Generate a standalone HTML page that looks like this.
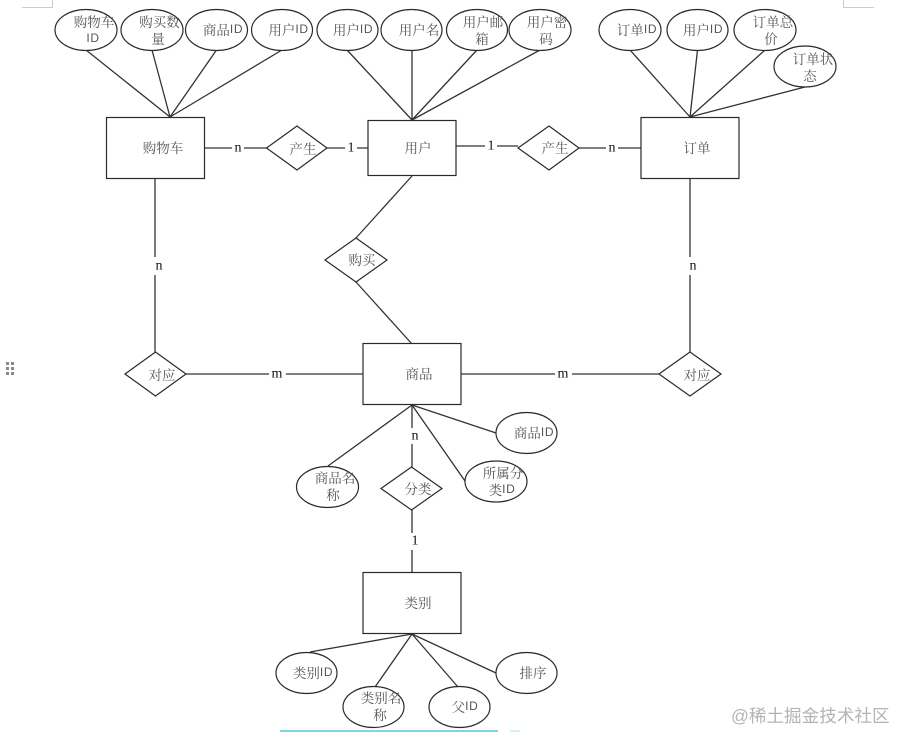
<!DOCTYPE html>
<html lang="zh">
<head>
<meta charset="utf-8">
<title>ER Diagram</title>
<style>
html,body{margin:0;padding:0;background:#fff;width:897px;height:732px;overflow:hidden}
svg{display:block;filter:blur(0.35px)}
.s{fill:#fff;stroke:#2a2a2a;stroke-width:1.2}
.l{stroke:#333;stroke-width:1.3;fill:none}
.t{font-family:"Noto Serif CJK SC","Liberation Serif",serif;font-size:13.5px;fill:#555;text-anchor:middle;dominant-baseline:central}
.i{font-family:"Liberation Sans",sans-serif;font-size:12px;letter-spacing:.6px}
.c{font-family:"Liberation Serif",serif;font-size:14px;fill:#111;text-anchor:middle;dominant-baseline:central}
</style>
</head>
<body>
<svg width="897" height="732" viewBox="0 0 897 732" xmlns="http://www.w3.org/2000/svg">
<rect width="897" height="732" fill="#fff"/>
<path d="M22 7.5H52.5V0M843.5 0V7.5H874" fill="none" stroke="#ccc"/>
<g fill="#8a8a8a">
<rect x="6" y="362" width="3" height="3"/><rect x="11" y="362" width="3" height="3"/>
<rect x="6" y="367" width="3" height="3"/><rect x="11" y="367" width="3" height="3"/>
<rect x="6" y="372" width="3" height="3"/><rect x="11" y="372" width="3" height="3"/>
</g>
<rect x="280" y="730" width="218" height="2" fill="#7fd4e2"/>
<rect x="510" y="730" width="10" height="2" fill="#d5f1f6"/>

<g class="l">
<path d="M86 50L170 117M152 50L170 117M216.5 50L170 117M282 50L170 117"/>
<path d="M347 50L412 120M412 50V120M477 50L412 120M540 50L412 120"/>
<path d="M630 50L690 117M697.5 50L690 117M765 50L690 117M805 87L690 117"/>
<path d="M155 178V352M205 148H266M327 148H368M456 146H518M579 148H641"/>
<path d="M412 176L356 238M356 282L412 344M690 178V352M186 374H363M461 374H659"/>
<path d="M412 405L496 433M412 405L465 481M412 405L328 466M412 405V467M412 510V572"/>
<path d="M412 634L310 652M412 634L375 687M412 634L458 687M412 634L496 673"/>
</g>

<g class="s">
<rect x="106.5" y="117.5" width="98" height="61"/>
<rect x="368" y="120.5" width="88" height="55"/>
<rect x="641" y="117.5" width="98" height="61"/>
<rect x="363" y="343.5" width="98" height="61"/>
<rect x="363" y="572.5" width="98" height="61"/>
<path d="M266.5 148L297 126L327 148L297 170Z"/>
<path d="M518 148L549 126L579 148L549 170Z"/>
<path d="M325 260L356 238L387 260L356 282Z"/>
<path d="M125 374L155.500 352L186 374L155.500 396Z"/>
<path d="M659 374L690 352L721 374L690 396Z"/>
<path d="M381 488.500L411.500 467L442 488.500L411.500 510Z"/>
<ellipse cx="86" cy="30" rx="31" ry="20.500"/>
<ellipse cx="152" cy="30" rx="31" ry="20.500"/>
<ellipse cx="216.500" cy="30" rx="31" ry="20.500"/>
<ellipse cx="282" cy="30" rx="30.500" ry="20.500"/>
<ellipse cx="347.500" cy="30" rx="30.500" ry="20.500"/>
<ellipse cx="411.500" cy="30" rx="30.500" ry="20.500"/>
<ellipse cx="477" cy="30" rx="30.500" ry="20.500"/>
<ellipse cx="540" cy="30" rx="31" ry="20.500"/>
<ellipse cx="630" cy="30" rx="31" ry="20.500"/>
<ellipse cx="697.500" cy="30" rx="30.500" ry="20.500"/>
<ellipse cx="765" cy="30" rx="31" ry="20.500"/>
<ellipse cx="805" cy="66.500" rx="31" ry="20.500"/>
<ellipse cx="526.500" cy="433" rx="30.500" ry="20.500"/>
<ellipse cx="496" cy="481.500" rx="31" ry="20.500"/>
<ellipse cx="327.500" cy="487" rx="31" ry="20.500"/>
<ellipse cx="306.500" cy="673" rx="30.500" ry="20.500"/>
<ellipse cx="373.500" cy="707" rx="30.500" ry="20.500"/>
<ellipse cx="459.500" cy="707" rx="30.500" ry="20.500"/>
<ellipse cx="526.500" cy="673" rx="30.500" ry="20.500"/>
</g>

<g fill="#fff">
<rect x="232" y="142" width="12" height="12"/>
<rect x="345" y="142" width="12" height="12"/>
<rect x="485" y="140" width="12" height="12"/>
<rect x="606" y="142" width="12" height="12"/>
<rect x="150" y="257" width="15" height="18"/>
<rect x="685" y="257" width="15" height="18"/>
<rect x="269" y="368" width="17" height="12"/>
<rect x="555" y="368" width="17" height="12"/>
<rect x="406" y="428" width="15" height="16"/>
<rect x="406" y="533" width="15" height="17"/>
</g>
<text class="c" x="238" y="148">n</text>
<text class="c" x="351" y="148">1</text>
<text class="c" x="491" y="146">1</text>
<text class="c" x="612" y="148">n</text>
<text class="c" x="159" y="266">n</text>
<text class="c" x="693" y="266">n</text>
<text class="c" x="277" y="374">m</text>
<text class="c" x="563" y="374">m</text>
<text class="c" x="415" y="436">n</text>
<text class="c" x="415" y="541">1</text>

<text class="t" x="94" y="21">购物车</text><text class="t" x="93" y="38"><tspan class="i">ID</tspan></text>
<text class="t" x="159.500" y="21">购买数</text><text class="t" x="158" y="38">量</text>
<text class="t" x="223" y="29">商品<tspan class="i">ID</tspan></text>
<text class="t" x="288.500" y="29">用户<tspan class="i">ID</tspan></text>
<text class="t" x="353" y="29">用户<tspan class="i">ID</tspan></text>
<text class="t" x="419" y="29">用户名</text>
<text class="t" x="483" y="21">用户邮</text><text class="t" x="482" y="38">箱</text>
<text class="t" x="547" y="21">用户密</text><text class="t" x="546" y="38">码</text>
<text class="t" x="637" y="29">订单<tspan class="i">ID</tspan></text>
<text class="t" x="703" y="29">用户<tspan class="i">ID</tspan></text>
<text class="t" x="773" y="21">订单总</text><text class="t" x="771" y="38">价</text>
<text class="t" x="813" y="58">订单状</text><text class="t" x="810" y="75">态</text>
<text class="t" x="163" y="147">购物车</text>
<text class="t" x="303" y="148">产生</text>
<text class="t" x="418" y="147">用户</text>
<text class="t" x="555" y="147">产生</text>
<text class="t" x="697" y="147">订单</text>
<text class="t" x="362" y="259">购买</text>
<text class="t" x="162" y="374">对应</text>
<text class="t" x="419" y="373">商品</text>
<text class="t" x="697" y="374">对应</text>
<text class="t" x="534" y="432">商品<tspan class="i">ID</tspan></text>
<text class="t" x="503" y="472">所属分</text><text class="t" x="502" y="489">类<tspan class="i">ID</tspan></text>
<text class="t" x="335" y="477">商品名</text><text class="t" x="333" y="494">称</text>
<text class="t" x="418" y="488">分类</text>
<text class="t" x="418" y="602">类别</text>
<text class="t" x="313" y="672">类别<tspan class="i">ID</tspan></text>
<text class="t" x="381" y="697">类别名</text><text class="t" x="380" y="714">称</text>
<text class="t" x="465" y="706">父<tspan class="i">ID</tspan></text>
<text class="t" x="533" y="672">排序</text>

<text x="731" y="722" font-family="'Liberation Sans','Noto Sans CJK SC',sans-serif" font-size="17.600" fill="#b4b4b4">@稀土掘金技术社区</text>
</svg>
</body>
</html>
